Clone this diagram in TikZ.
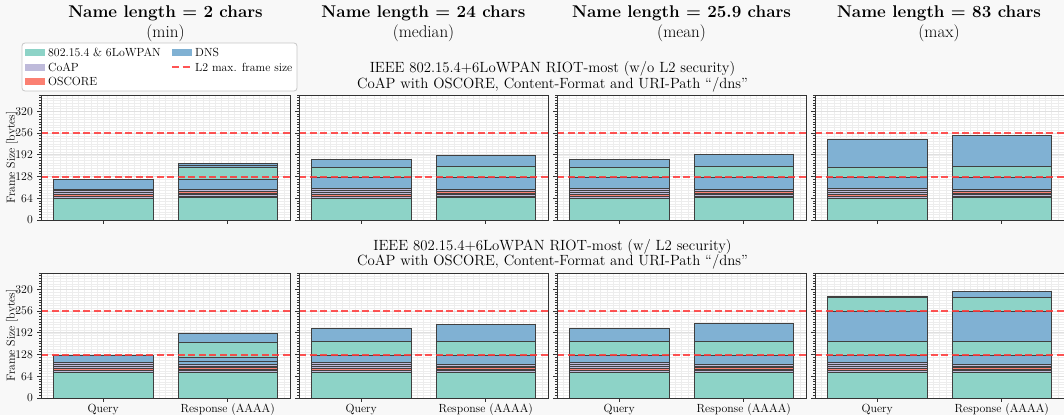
\documentclass[tikz,border=0pt]{standalone}
\usepackage{tikz}
\usetikzlibrary{calc}
\definecolor{lowpan}{RGB}{141,211,199}
\definecolor{coap}{RGB}{190,186,218}
\definecolor{oscore}{RGB}{251,128,114}
\definecolor{dns}{RGB}{128,177,211}
\definecolor{maxred}{RGB}{255,55,55}
\definecolor{figbg}{RGB}{248,248,248}

% stacked bar at x=#1, segments colour/bytes from the bottom up
\newcommand{\stackbar}[2]{%
  \foreach \c/\h [evaluate=\h as \ytop using \ybot+\h, remember=\ytop as \ybot (initially 0)] in {#2}
    \draw[seg, fill=\c] (#1-0.4,\ybot) rectangle (#1+0.4,\ytop);
}

% one panel: left edge #1, bottom #2 (px), query #3, response #4
\newcommand{\framepanel}[4]{%
  \begin{scope}[shift={(#1+62.25,#2)}, x=124.5pt, y=0.3397pt]
    \fill[white] (-0.5,0) rectangle (1.5,368);
    \draw[minorgrid] (-0.5,0) grid[xstep=0.05, ystep=8] (1.5,368);
    \foreach \v in {64,128,...,320}
      \draw[majorgrid] (-0.5,\v) -- (1.5,\v);
    \stackbar{0}{#3}
    \stackbar{1}{#4}
    \foreach \v in {127,255}
      \draw[maxline] (-0.5,\v) -- (1.5,\v);
    \foreach \v in {0,8,...,368}
      \draw[axisline] (-0.5,\v) -- ++(-2pt,0);
    \foreach \v in {0,64,...,320}
      \draw[axisline] (-0.5,\v) -- ++(-4pt,0);
    \foreach \v in {0,1}
      \draw[axisline] (\v,0) -- ++(0,-4pt);
    \draw[axisline] (-0.5,0) rectangle (1.5,368);
  \end{scope}}

\begin{document}
\begin{tikzpicture}[x=1pt, y=-1pt,
    seg/.style={draw=black!75, line width=0.45pt},
    minorgrid/.style={draw=black!7, line width=0.3pt},
    majorgrid/.style={draw=black!12, line width=0.6pt},
    maxline/.style={draw=maxred, line width=2pt, dash pattern=on 7pt off 3.5pt, draw opacity=0.85},
    axisline/.style={draw=black!80, line width=0.8pt},
    ticktext/.style={font=\fontsize{11.8}{13}\selectfont, inner sep=0pt},
    headtext/.style={font=\fontsize{17}{19}\selectfont, inner sep=0pt, anchor=base},
    rowtext/.style={font=\fontsize{14.8}{16}\selectfont, inner sep=0pt, anchor=base}
]
\fill[figbg] (0,0) rectangle (1064,415);
\useasboundingbox (0,0) rectangle (1064,415);

% column titles
\foreach \x/\n/\s [count=\i] in {165.5/2/min, 423.5/24/median, 681.5/25.9/mean, 939/83/max} {
  \node[headtext] (name-\i) at (\x,17) {\textbf{Name length = \n\ chars}};
  \node[headtext] (stat-\i) at (\x,37.5) {(\s)};
}

% row captions
\node[rowtext] (cap-a1) at (552.5,72) {IEEE 802.15.4+6LoWPAN RIOT-most (w/o L2 security)};
\node[rowtext] (cap-a2) at (552.5,88) {CoAP with OSCORE, Content-Format and URI-Path ``/dns''};
\node[rowtext] (cap-b1) at (552.5,250) {IEEE 802.15.4+6LoWPAN RIOT-most (w/ L2 security)};
\node[rowtext] (cap-b2) at (552.5,265.5) {CoAP with OSCORE, Content-Format and URI-Path ``/dns''};

% without L2 security
\framepanel{41}{220}{lowpan/64, coap/6, oscore/5, coap/6, coap/6, coap/5, dns/27}
  {lowpan/67, coap/4, coap/4, oscore/5, oscore/4, coap/6, dns/31, lowpan/33, dns/7, dns/6}
\framepanel{299}{220}{lowpan/65, coap/6, oscore/5, coap/6, coap/6, coap/5, dns/34, lowpan/28, dns/23}
  {lowpan/67, coap/4, coap/4, oscore/5, oscore/4, coap/6, dns/37, lowpan/30, dns/33}
\framepanel{557}{220}{lowpan/65, coap/6, oscore/5, coap/6, coap/6, coap/5, dns/34, lowpan/28, dns/25}
  {lowpan/67, coap/4, coap/4, oscore/5, oscore/4, coap/6, dns/37, lowpan/30, dns/36}
\framepanel{815}{220}{lowpan/65, coap/6, oscore/5, coap/6, coap/6, coap/5, dns/34, lowpan/28, dns/82}
  {lowpan/67, coap/4, coap/4, oscore/5, oscore/4, coap/6, dns/37, lowpan/30, dns/92}

% with L2 security
\framepanel{41}{398}{lowpan/76, coap/6, oscore/5, coap/6, coap/6, coap/5, dns/22}
  {lowpan/77, coap/4, coap/4, oscore/5, oscore/4, coap/6, dns/7, dns/14, lowpan/44, dns/25}
\framepanel{299}{398}{lowpan/77, coap/6, oscore/5, coap/6, coap/6, coap/5, dns/22, lowpan/40, dns/37}
  {lowpan/77, coap/4, coap/4, oscore/5, oscore/4, coap/6, dns/27, lowpan/40, dns/51}
\framepanel{557}{398}{lowpan/77, coap/6, oscore/5, coap/6, coap/6, coap/5, dns/22, lowpan/40, dns/39}
  {lowpan/77, coap/4, coap/4, oscore/5, oscore/4, coap/6, dns/27, lowpan/40, dns/54}
\framepanel{815}{398}{lowpan/77, coap/6, oscore/5, coap/6, coap/6, coap/5, dns/22, lowpan/40, dns/88, lowpan/43, dns/2}
  {lowpan/77, coap/4, coap/4, oscore/5, oscore/4, coap/6, dns/27, lowpan/40, dns/88, lowpan/43, dns/16}

% axis labels
\foreach \r/\k in {220/a, 398/b} {
  \foreach \v in {0,64,...,320}
    \node[ticktext, anchor=east] (tick-\k\v) at (33,\r-0.3397*\v) {\v};
  \node[ticktext, rotate=90] (ylab-\k) at (12,\r-62.5) {Frame Size [bytes]};
}
\foreach \l [count=\i] in {41,299,557,815} {
  \node[ticktext, anchor=base] (query-\i) at (\l+62.25,412) {Query};
  \node[ticktext, anchor=base] (resp-\i) at (\l+186.75,412) {Response (AAAA)};
}

% legend
\draw[black!22, fill=white, rounded corners=3pt, line width=0.8pt] (22,43) rectangle (297,91);
\foreach \y/\c/\t in {52.5/lowpan/802.15.4 \& 6LoWPAN, 67/coap/CoAP, 81.5/oscore/OSCORE} {
  \fill[\c] (25,\y-3.5) rectangle (45,\y+3.5);
  \node[ticktext, anchor=west] (leg-\c) at (48,\y) {\t};
}
\fill[dns] (172,49) rectangle (192,56);
\node[ticktext, anchor=west] (leg-dns) at (195,52.5) {DNS};
\draw[maxline] (172,67) -- (192,67);
\node[ticktext, anchor=west] (leg-max) at (195,67) {L2 max. frame size};
\end{tikzpicture}
\end{document}
